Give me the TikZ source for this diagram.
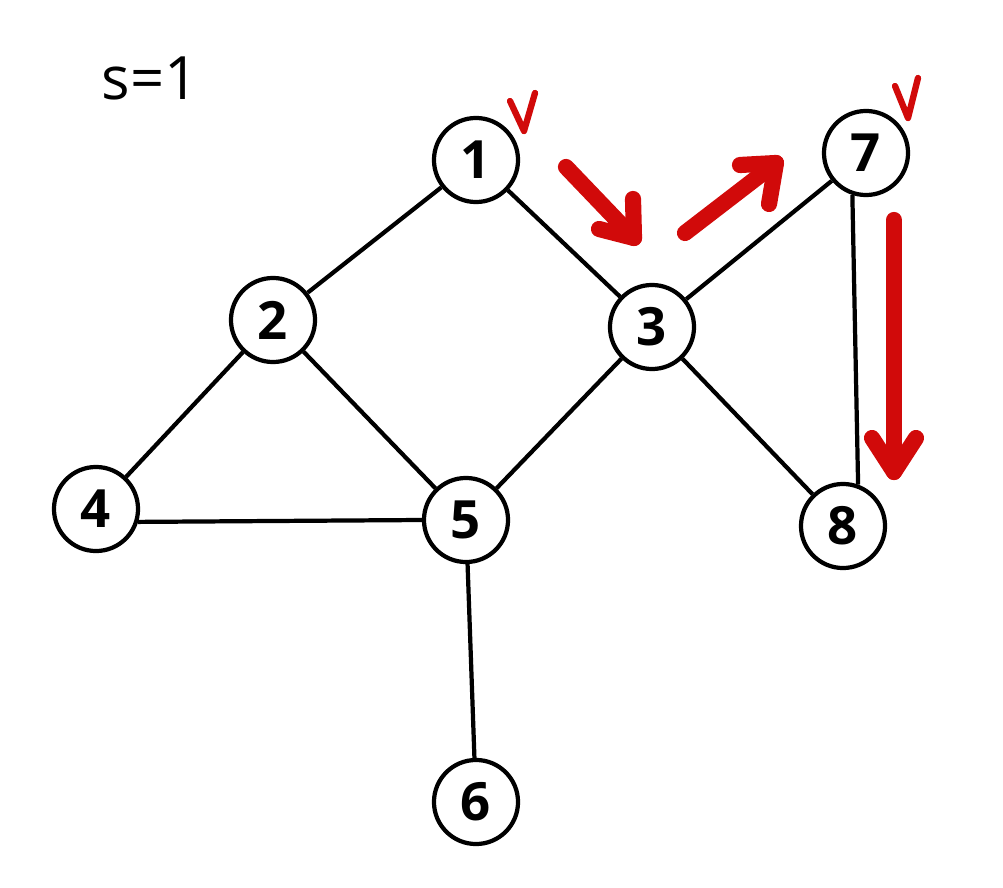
\documentclass[tikz,border=0pt]{standalone}
\usepackage{fontspec}
\setmainfont{Open Sans}
\definecolor{myred}{HTML}{D10A0A}
\begin{document}
\begin{tikzpicture}[x=0.01cm,y=-0.01cm,
  vert/.style={circle,draw=black,line width=1.2pt,minimum size=0.84cm,inner sep=0pt,fill=white,font=\fontsize{15}{15}\selectfont\bfseries},
  edge/.style={line width=1.2pt,draw=black},
  bigarrow/.style={draw=myred,line width=4.6pt,line cap=round,line join=round},
  tick/.style={draw=myred,line width=1.8pt,line cap=round,line join=round}]
\useasboundingbox (0,0) rectangle (1003,888);
\node[font=\fontsize{17}{17}\selectfont] (s) at (150,78) {s=1};
\node[vert] (n1) at (476,160) {1};
\node[vert] (n2) at (273,320) {2};
\node[vert] (n3) at (652,327) {3};
\node[vert] (n4) at (96,509) {4};
\node[vert] (n5) at (466,520) {5};
\node[vert] (n6) at (476,802) {6};
\node[vert] (n7) at (866,153) {7};
\node[vert] (n8) at (843,526) {8};
\draw[edge] (n1) -- (n2);
\draw[edge] (n1) -- (n3);
\draw[edge] (n2) -- (n4);
\draw[edge] (n2) -- (n5);
\draw[edge] (n3) -- (n5);
\draw[edge] (n3) -- (n7);
\draw[edge] (n3) -- (n8);
\draw[edge] (n4.-17) -- (n5.west);
\draw[edge] (n5) -- (n6);
\draw[edge] (n7.-108) -- (n8.70);
% red arrows
\coordinate (a1s) at (566,167);
\coordinate (a1t) at (634,238);
\draw[bigarrow] (a1s) -- (a1t);
\draw[bigarrow] (633,199) -- (a1t) -- (599,229);
\coordinate (a2s) at (685,233);
\coordinate (a2t) at (776,163);
\draw[bigarrow] (a2s) -- (a2t);
\draw[bigarrow] (740,165) -- (a2t) -- (769,204);
\coordinate (a3s) at (894,220);
\coordinate (a3t) at (894,472);
\draw[bigarrow] (a3s) -- (a3t);
\draw[bigarrow] (872,438) -- (a3t) -- (916,438);
% ticks
\draw[tick] (510,101) -- (524,131) -- (535,93);
\draw[tick] (895,86) -- (908,118) -- (918,78);
\end{tikzpicture}
\end{document}
